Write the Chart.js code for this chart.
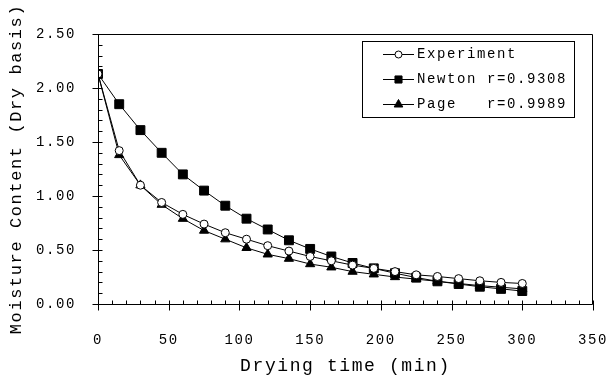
<!DOCTYPE html>
<html>
<head>
<meta charset="utf-8">
<script src="https://cdn.jsdelivr.net/npm/chart.js@4.4.0/dist/chart.umd.min.js"></script>
<style>
    html, body { margin: 0; padding: 0; background: #fff; }
</style>
</head>
<body>
<canvas id="dryingChart" width="607" height="383"></canvas>
<script>
// Drying curve data
const dryingTime = [0, 15, 30, 45, 60, 75, 90, 105, 120, 135, 150, 165, 180, 195, 210, 225, 240, 255, 270, 285, 300];
const experiment = [2.13, 1.42, 1.10, 0.94, 0.83, 0.74, 0.66, 0.60, 0.54, 0.49, 0.44, 0.40, 0.36, 0.33, 0.30, 0.27, 0.255, 0.235, 0.215, 0.20, 0.19];
const newton     = [2.13, 1.85, 1.61, 1.40, 1.20, 1.05, 0.91, 0.79, 0.69, 0.59, 0.51, 0.44, 0.38, 0.33, 0.285, 0.245, 0.21, 0.185, 0.16, 0.14, 0.12];
const page       = [2.13, 1.38, 1.10, 0.92, 0.79, 0.68, 0.60, 0.52, 0.46, 0.42, 0.37, 0.34, 0.30, 0.275, 0.25, 0.23, 0.21, 0.19, 0.17, 0.155, 0.14];
const seriesLabels = ['Experiment', 'Newton r=0.9308', 'Page   r=0.9989'];

const xTitle = 'Drying time (min)';
const yTitle = 'Moisture Content (Dry basis)';

const FONT = "'Courier New', 'Liberation Mono', monospace";
const SPACING = '1.6px';

function toPoints(values) {
    return values.map((v, i) => ({ x: dryingTime[i], y: v }));
}

// Courier-like spacing on all canvas text
const spacingPlugin = {
    id: 'spacing',
    beforeUpdate(chart) { chart.ctx.letterSpacing = SPACING; },
    beforeDraw(chart) { chart.ctx.letterSpacing = SPACING; }
};

// Frame plus major / minor tick marks
const frameTicksPlugin = {
    id: 'frameTicks',
    afterDraw(chart) {
        const { ctx, chartArea: a, scales: { x, y } } = chart;
        const L = Math.round(a.left) + 0.5, R = Math.round(a.right) - 0.5;
        const T = Math.round(a.top) + 0.5, B = Math.round(a.bottom) + 0.5;
        ctx.save();
        ctx.strokeStyle = '#000';
        ctx.lineWidth = 1;
        ctx.beginPath();
        ctx.moveTo(L, T); ctx.lineTo(R, T); ctx.lineTo(R, B);
        ctx.moveTo(L, T); ctx.lineTo(L, B); ctx.lineTo(R, B);

        // x ticks: minor every 10, major every 50
        for (let v = x.min; v <= x.max + 0.001; v += 10) {
            const px = Math.round(x.getPixelForValue(v)) + 0.5;
            const major = Math.abs(v % 50) < 0.001;
            ctx.moveTo(px, major ? B + 6 : B);
            ctx.lineTo(px, B - 4);
        }
        // y ticks: minor every 0.1, major every 0.5
        for (let i = 0; i <= 25; i++) {
            const v = i / 10;
            const py = Math.round(y.getPixelForValue(v)) + 0.5;
            const major = i % 5 === 0;
            ctx.moveTo(major ? L - 6 : L, py);
            ctx.lineTo(L + 4, py);
        }
        ctx.stroke();
        ctx.restore();
    }
};

// Boxed legend inside the plot, top right
const boxLegendPlugin = {
    id: 'boxLegend',
    afterDraw(chart, args, opts) {
        const ctx = chart.ctx;
        const b = opts.box;
        ctx.save();
        ctx.letterSpacing = SPACING;
        ctx.fillStyle = '#fff';
        ctx.fillRect(b.left, b.top, b.right - b.left, b.bottom - b.top);
        ctx.strokeStyle = '#000';
        ctx.lineWidth = 1;
        ctx.strokeRect(b.left + 0.5, b.top + 0.5, b.right - b.left, b.bottom - b.top);

        chart.data.datasets.forEach((ds, i) => {
            const cy = b.top + opts.firstRow + i * opts.rowGap + 0.5;
            ctx.beginPath();
            ctx.moveTo(opts.lineStart, cy);
            ctx.lineTo(opts.lineEnd, cy);
            ctx.strokeStyle = ds.borderColor;
            ctx.lineWidth = 1;
            ctx.stroke();

            ctx.fillStyle = ds.pointBackgroundColor;
            ctx.strokeStyle = ds.pointBorderColor;
            Chart.helpers.drawPoint(ctx, {
                pointStyle: ds.pointStyle,
                radius: opts.markerRadius[i],
                rotation: 0,
                borderWidth: 1
            }, (opts.lineStart + opts.lineEnd) / 2, cy);

            ctx.fillStyle = '#000';
            ctx.font = '14px ' + FONT;
            ctx.textBaseline = 'middle';
            ctx.textAlign = 'left';
            ctx.fillText(ds.label, opts.textX, cy);
        });
        ctx.restore();
    }
};

const ctx = document.getElementById('dryingChart').getContext('2d');

new Chart(ctx, {
    type: 'line',
    data: {
        datasets: [
            {
                label: seriesLabels[0],
                data: toPoints(experiment),
                borderColor: '#000',
                borderWidth: 1,
                pointStyle: 'circle',
                pointRadius: 4,
                pointBackgroundColor: '#fff',
                pointBorderColor: '#000',
                pointBorderWidth: 1
            },
            {
                label: seriesLabels[1],
                data: toPoints(newton),
                borderColor: '#000',
                borderWidth: 1,
                pointStyle: 'rect',
                pointRadius: 6.3,
                pointBackgroundColor: '#000',
                pointBorderColor: '#000',
                pointBorderWidth: 1
            },
            {
                label: seriesLabels[2],
                data: toPoints(page),
                borderColor: '#000',
                borderWidth: 1,
                pointStyle: 'triangle',
                pointRadius: 5.3,
                pointBackgroundColor: '#000',
                pointBorderColor: '#000',
                pointBorderWidth: 1
            }
        ]
    },
    options: {
        responsive: false,
        animation: false,
        devicePixelRatio: 1,
        layout: { padding: { top: 34, right: 14, left: 0, bottom: 0 } },
        scales: {
            x: {
                type: 'linear',
                min: 0,
                max: 350,
                ticks: {
                    stepSize: 50,
                    color: '#000',
                    font: { family: FONT, size: 14 },
                    padding: 20,
                    maxRotation: 0
                },
                grid: { display: false },
                border: { display: false },
                title: {
                    display: true,
                    text: xTitle,
                    color: '#000',
                    font: { family: FONT, size: 18 },
                    padding: { top: 0, bottom: 6 }
                },
                afterFit(scale) {
                    scale.height = 79;
                    scale.paddingLeft = 0;
                    scale.paddingRight = 0;
                }
            },
            y: {
                min: 0,
                max: 2.5,
                ticks: {
                    stepSize: 0.5,
                    color: '#000',
                    font: { family: FONT, size: 14 },
                    padding: 14,
                    callback: v => v.toFixed(2)
                },
                grid: { display: false },
                border: { display: false },
                title: {
                    display: true,
                    text: yTitle,
                    color: '#000',
                    font: { family: FONT, size: 17 },
                    padding: { top: 6, bottom: 0 }
                },
                afterFit(scale) {
                    scale.width = 98;
                    scale.paddingTop = 0;
                    scale.paddingBottom = 0;
                }
            }
        },
        plugins: {
            legend: { display: false },
            tooltip: { enabled: false },
            boxLegend: {
                box: { left: 362, top: 41, right: 574, bottom: 117 },
                firstRow: 13,
                rowGap: 25,
                lineStart: 383,
                lineEnd: 414,
                textX: 417,
                markerRadius: [3.5, 5, 5]
            }
        }
    },
    plugins: [spacingPlugin, frameTicksPlugin, boxLegendPlugin]
});
</script>
</body>
</html>
